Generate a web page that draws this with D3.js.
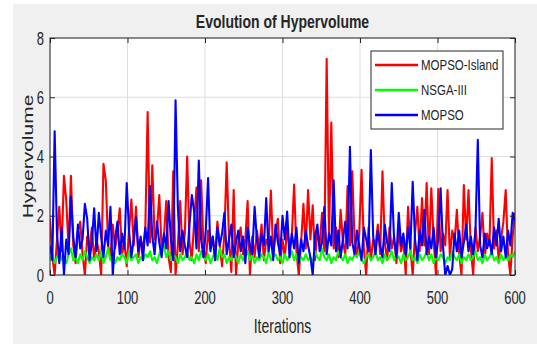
<!DOCTYPE html>
<html>
<head>
<meta charset="utf-8">
<script src="https://cdn.jsdelivr.net/npm/d3@7"></script>
<style>
  body { margin: 0; background: #fff; }
  text { font-family: "Liberation Sans", Arial, sans-serif; fill: #262626; }
</style>
</head>
<body>
<svg id="chart" width="537" height="344"></svg>
<script>
// iteration index of each sample (every 3rd iteration)
var iterations = d3.range(0, 601, 3);

var xTicks = [0, 100, 200, 300, 400, 500, 600];
var yTicks = [0, 2, 4, 6, 8];
var seriesNames = ["MOPSO-Island", "NSGA-III", "MOPSO"];
var seriesColors = ["#ff0000", "#00ff00", "#0000ff"];

// MOPSO-Island (red)
var mopsoIsland = [
  1.9, 0.6, 0.0, 1.2, 2.3, 0.8, 3.35, 2.5, 0.9, 3.35,
  1.0, 0.4, 1.5, 1.8, 0.7, 0.0, 1.3, 0.9, 1.6, 0.5,
  1.2, 0.8, 0.0, 3.75, 3.2, 1.0, 0.6, 1.7, 0.9, 1.4,
  2.25, 0.7, 1.1, 0.3, 1.5, 2.55, 1.0, 2.3, 0.6, 1.2,
  0.9, 1.6, 5.5, 1.1, 3.7, 1.2, 1.5, 2.7, 0.9, 1.3,
  2.5, 0.6, 0.1, 3.5, 0.0, 1.0, 2.5, 0.7, 1.4, 4.0,
  1.1, 0.5, 1.8, 2.95, 0.8, 3.2, 1.0, 0.4, 1.5, 0.9,
  1.3, 0.6, 1.8, 1.0, 0.3, 1.4, 3.8, 1.2, 0.1, 2.87,
  0.0, 1.1, 1.6, 0.7, 1.2, 2.5, 0.0, 1.3, 0.6, 1.5,
  0.9, 1.7, 0.5, 1.2, 1.0, 2.85, 0.7, 1.4, 1.9, 0.4,
  1.2, 0.6, 1.6, 0.9, 1.3, 3.05, 0.8, 0.0, 1.1, 2.4,
  0.9, 2.87, 1.2, 2.35, 0.5, 1.5, 1.0, 2.1, 0.8, 7.3,
  1.3, 5.15, 0.9, 1.6, 0.6, 2.2, 1.1, 0.7, 3.0, 1.0,
  3.5, 1.2, 0.6, 1.4, 3.55, 0.9, 0.0, 1.6, 0.5, 1.2,
  1.0, 1.7, 0.7, 3.5, 1.1, 0.5, 1.6, 0.9, 1.3, 0.4,
  1.5, 0.8, 1.2, 0.0, 2.3, 0.9, 0.0, 1.4, 2.3, 0.8,
  2.6, 1.0, 3.1, 0.7, 2.93, 1.2, 0.0, 2.9, 0.8, 1.4,
  1.0, 2.87, 0.6, 1.5, 1.1, 2.2, 0.7, 0.0, 3.04, 1.2,
  2.87, 0.9, 0.0, 1.6, 0.8, 1.3, 2.1, 0.6, 1.4, 1.0,
  3.95, 0.9, 1.5, 0.5, 1.2, 1.8, 2.87, 0.7, 0.0, 1.3, 2.1
];

// NSGA-III (green)
var nsga3 = [
  0.5, 0.7, 0.4, 0.6, 0.8, 0.5, 0.6, 0.4, 0.7, 0.9,
  0.5, 0.6, 0.4, 0.7, 0.5, 0.8, 0.6, 0.4, 0.6, 0.5,
  0.7, 0.5, 0.8, 0.4, 0.6, 0.9, 0.5, 0.7, 0.4, 0.6,
  0.5, 0.7, 0.6, 0.4, 0.8, 0.5, 0.6, 0.7, 0.4, 0.6,
  0.5, 0.7, 0.6, 0.8, 0.5, 0.6, 0.4, 0.7, 0.9, 1.0,
  0.6, 0.8, 0.5, 0.7, 0.6, 0.4, 0.7, 0.5, 0.6, 0.8,
  0.5, 0.6, 0.4, 0.7, 0.5, 0.8, 0.6, 0.5, 0.7, 0.4,
  0.6, 0.8, 0.5, 0.9, 0.6, 0.7, 0.4, 0.6, 0.5, 0.8,
  0.6, 0.4, 0.7, 0.5, 0.6, 0.8, 0.5, 0.7, 0.4, 0.6,
  0.5, 0.7, 0.6, 0.4, 0.8, 0.5, 0.6, 0.7, 0.5, 0.6,
  0.4, 0.7, 0.5, 0.6, 0.8, 0.5, 0.7, 0.4, 0.6, 0.5,
  0.7, 0.5, 0.6, 0.4, 0.8, 0.6, 0.5, 0.9, 0.6, 0.5,
  0.7, 0.4, 0.6, 0.5, 0.8, 0.6, 0.5, 0.7, 0.4, 0.6,
  0.5, 0.7, 0.6, 0.8, 0.5, 0.4, 0.6, 0.7, 0.5, 0.6,
  0.8, 0.5, 0.6, 0.4, 0.7, 0.5, 0.6, 0.8, 0.5, 0.7,
  0.6, 0.4, 0.7, 0.5, 0.6, 0.8, 0.5, 0.6, 0.4, 0.7,
  0.5, 0.6, 0.8, 0.5, 0.7, 0.4, 0.6, 0.5, 0.7, 0.6,
  0.4, 0.6, 0.5, 0.8, 0.6, 0.5, 0.7, 0.4, 0.6, 0.5,
  0.7, 0.5, 0.6, 0.8, 0.5, 0.6, 0.4, 0.7, 0.5, 0.6,
  0.8, 0.5, 0.6, 0.4, 0.7, 0.5, 0.6, 0.5, 0.7, 0.6, 0.8
];

// MOPSO (blue)
var mopso = [
  1.0, 0.5, 4.85, 1.4, 0.4, 1.6, 0.0, 1.2, 0.7, 2.65,
  1.3, 0.6, 1.7, 0.9, 1.2, 2.4, 1.9, 0.5, 1.1, 2.25,
  0.8, 2.1, 1.3, 0.6, 1.5, 1.0, 2.3, 0.0, 1.2, 1.8,
  0.7, 1.4, 0.9, 3.1, 1.5, 0.6, 1.2, 1.95, 0.8, 1.3,
  0.5, 1.6, 1.0, 3.0, 1.3, 0.7, 1.8, 1.1, 0.6, 1.4,
  0.9, 2.5, 1.2, 0.5, 5.9, 2.3, 0.8, 1.5, 1.0, 0.6,
  1.7, 2.7, 2.15, 0.9, 3.86, 1.2, 0.6, 1.5, 3.27, 0.8,
  1.3, 0.5, 1.6, 1.0, 1.4, 2.1, 0.7, 1.2, 1.7, 0.6,
  1.1, 1.5, 0.8, 1.3, 0.4, 1.6, 1.0, 0.7, 2.3, 1.2,
  0.6, 1.4, 1.0, 2.6, 0.8, 1.3, 0.5, 1.7, 1.1, 0.7,
  2.0, 1.2, 2.14, 0.6, 1.4, 0.9, 1.6, 0.4, 1.2, 0.8,
  1.5, 1.0, 0.6, 0.0, 1.3, 1.7, 0.8, 1.1, 2.3, 0.7,
  1.4, 1.0, 3.2, 0.8, 1.5, 0.6, 1.2, 1.8, 0.9, 4.33,
  1.1, 0.7, 1.5, 1.0, 0.5, 1.6, 1.2, 0.8, 4.22, 1.3,
  0.7, 1.5, 1.0, 0.6, 1.7, 1.1, 0.8, 3.1, 1.2, 0.6,
  2.1, 1.0, 1.4, 0.7, 1.6, 0.9, 3.15, 1.2, 0.5, 1.5,
  1.0, 2.2, 0.7, 1.3, 0.9, 1.6, 0.6, 1.2, 2.93, 1.0,
  0.0, 0.3, 0.0, 0.2, 1.4, 0.8, 1.5, 0.6, 1.1, 1.7,
  0.8, 1.3, 0.7, 1.5, 4.56, 1.0, 0.6, 1.4, 0.9, 1.2,
  0.7, 1.6, 1.0, 1.9, 0.8, 1.3, 0.6, 1.5, 1.0, 2.1, 1.8
];

var allSeries = [mopsoIsland, nsga3, mopso];

var svg = d3.select("#chart"),
    margin = { top: 38, right: 22, bottom: 69, left: 50 },
    width = +svg.attr("width"),
    height = +svg.attr("height"),
    plotW = width - margin.left - margin.right,
    plotH = height - margin.top - margin.bottom;

// grey figure background
svg.append("rect")
    .attr("x", 13).attr("y", 4)
    .attr("width", width - 13).attr("height", height - 4)
    .attr("fill", "#f0f0f0");

var x = d3.scaleLinear().domain([0, 600]).range([0, plotW]);
var y = d3.scaleLinear().domain([0, 8]).range([plotH, 0]);

var g = svg.append("g")
    .attr("transform", "translate(" + margin.left + "," + margin.top + ")");

g.append("rect")
    .attr("width", plotW).attr("height", plotH)
    .attr("fill", "#fff");

svg.append("clipPath").attr("id", "clip")
    .append("rect").attr("width", plotW).attr("height", plotH);

// grid
g.selectAll(".vgrid").data(xTicks).enter().append("line")
    .attr("x1", d => x(d)).attr("x2", d => x(d))
    .attr("y1", 0).attr("y2", plotH)
    .attr("stroke", "#dedede").attr("stroke-width", 1);
g.selectAll(".hgrid").data(yTicks).enter().append("line")
    .attr("y1", d => y(d)).attr("y2", d => y(d))
    .attr("x1", 0).attr("x2", plotW)
    .attr("stroke", "#dedede").attr("stroke-width", 1);

var line = d3.line()
    .x((d, i) => x(iterations[i]))
    .y(d => y(d));

var lines = g.append("g").attr("clip-path", "url(#clip)");
allSeries.forEach(function (s, i) {
    lines.append("path")
        .datum(s)
        .attr("d", line)
        .attr("fill", "none")
        .attr("stroke", seriesColors[i])
        .attr("stroke-width", 2.1)
        .attr("stroke-linejoin", "round");
});

// axes, MATLAB style: ticks pointing in, box on all sides
var axisColor = "#262626";
function styleAxis(sel) {
    sel.select(".domain").remove();
    sel.selectAll(".tick line").attr("stroke", axisColor);
    sel.selectAll(".tick text").remove();
}
g.append("g").attr("transform", "translate(0," + plotH + ")")
    .call(d3.axisBottom(x).tickValues(xTicks).tickSizeInner(-5).tickSizeOuter(0))
    .call(styleAxis);
g.append("g")
    .call(d3.axisTop(x).tickValues(xTicks).tickSizeInner(-5).tickSizeOuter(0))
    .call(styleAxis);
g.append("g")
    .call(d3.axisLeft(y).tickValues(yTicks).tickSizeInner(-5).tickSizeOuter(0))
    .call(styleAxis);
g.append("g").attr("transform", "translate(" + plotW + ",0)")
    .call(d3.axisRight(y).tickValues(yTicks).tickSizeInner(-5).tickSizeOuter(0))
    .call(styleAxis);

g.append("rect")
    .attr("width", plotW).attr("height", plotH)
    .attr("fill", "none").attr("stroke", axisColor).attr("stroke-width", 1);

// text is a bit tall in the picture, so stretch vertically
function label(parent, tx, ty, str, size, anchor, weight, rot, sy) {
    sy = sy || 1.3;
    return parent.append("text")
        .attr("transform", "translate(" + tx + "," + ty + ")" + (rot ? " rotate(" + rot + ")" : "") + " scale(" + (rot ? sy + ",1" : "1," + sy) + ")")
        .attr("text-anchor", anchor)
        .attr("font-size", size)
        .attr("font-weight", weight || "normal")
        .text(str);
}

xTicks.forEach(function (t) {
    label(g, x(t), plotH + 29, t, 13, "middle", "normal", 0, 1.4);
});
yTicks.forEach(function (t) {
    label(g, -6, y(t) + 6.5, t, 13, "end", "normal", 0, 1.4);
});

label(svg, margin.left + plotW / 2, 28, "Evolution of Hypervolume", 14, "middle", "bold");
label(svg, margin.left + plotW / 2, 333, "Iterations", 14, "middle", "normal", 0, 1.4);
label(svg, 33, margin.top + plotH / 2, "Hypervolume", 15, "middle", "normal", -90, 1.4);

// legend
var legend = svg.append("g").attr("transform", "translate(371,51)");
legend.append("rect")
    .attr("width", 132).attr("height", 78)
    .attr("fill", "#fff").attr("stroke", axisColor).attr("stroke-width", 1);
seriesNames.forEach(function (name, i) {
    var ly = 14 + i * 25;
    legend.append("line")
        .attr("x1", 4).attr("x2", 47)
        .attr("y1", ly).attr("y2", ly)
        .attr("stroke", seriesColors[i]).attr("stroke-width", 2.5);
    label(legend, 50, ly + 5, name, 11.5, "start", "normal", 0, 1.35);
});
</script>
</body>
</html>
